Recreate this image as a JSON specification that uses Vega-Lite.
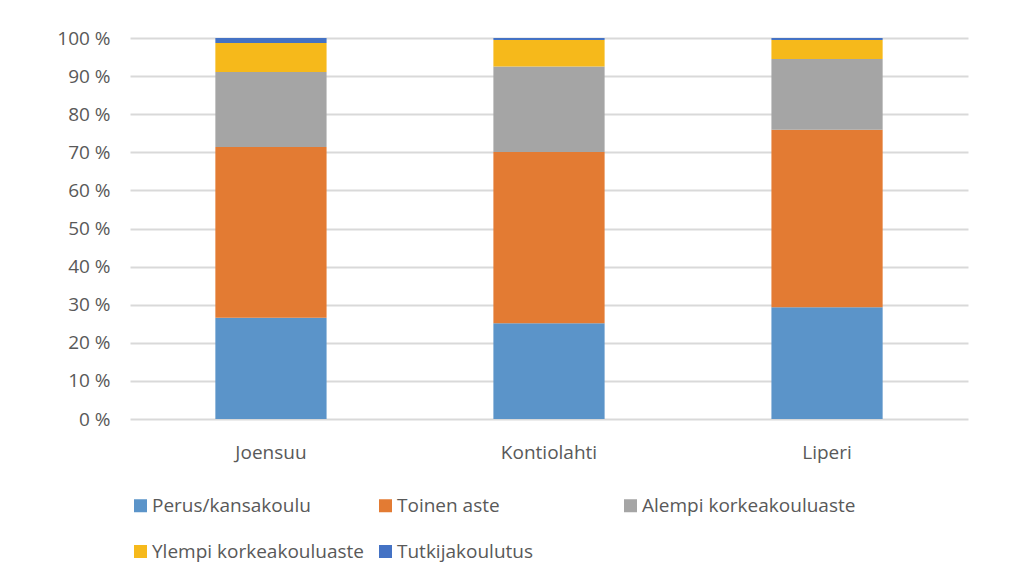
{
  "$schema": "https://vega.github.io/schema/vega-lite/v6.json",
  "width": 838,
  "height": 381,
  "autosize": "none",
  "padding": {"left": 130, "top": 38, "right": 49, "bottom": 157},
  "background": "#ffffff",
  "data": {
    "values": [
      {"kunta": "Joensuu", "koulutus": "Perus/kansakoulu", "jarjestys": 1, "osuus": 26.6},
      {"kunta": "Joensuu", "koulutus": "Toinen aste", "jarjestys": 2, "osuus": 44.8},
      {"kunta": "Joensuu", "koulutus": "Alempi korkeakouluaste", "jarjestys": 3, "osuus": 19.7},
      {"kunta": "Joensuu", "koulutus": "Ylempi korkeakouluaste", "jarjestys": 4, "osuus": 7.6},
      {"kunta": "Joensuu", "koulutus": "Tutkijakoulutus", "jarjestys": 5, "osuus": 1.3},
      {"kunta": "Kontiolahti", "koulutus": "Perus/kansakoulu", "jarjestys": 1, "osuus": 25.1},
      {"kunta": "Kontiolahti", "koulutus": "Toinen aste", "jarjestys": 2, "osuus": 45.0},
      {"kunta": "Kontiolahti", "koulutus": "Alempi korkeakouluaste", "jarjestys": 3, "osuus": 22.4},
      {"kunta": "Kontiolahti", "koulutus": "Ylempi korkeakouluaste", "jarjestys": 4, "osuus": 7.0},
      {"kunta": "Kontiolahti", "koulutus": "Tutkijakoulutus", "jarjestys": 5, "osuus": 0.5},
      {"kunta": "Liperi", "koulutus": "Perus/kansakoulu", "jarjestys": 1, "osuus": 29.3},
      {"kunta": "Liperi", "koulutus": "Toinen aste", "jarjestys": 2, "osuus": 46.6},
      {"kunta": "Liperi", "koulutus": "Alempi korkeakouluaste", "jarjestys": 3, "osuus": 18.6},
      {"kunta": "Liperi", "koulutus": "Ylempi korkeakouluaste", "jarjestys": 4, "osuus": 5.0},
      {"kunta": "Liperi", "koulutus": "Tutkijakoulutus", "jarjestys": 5, "osuus": 0.5}
    ]
  },
  "mark": {"type": "bar"},
  "encoding": {
    "x": {
      "field": "kunta",
      "type": "nominal",
      "sort": ["Joensuu", "Kontiolahti", "Liperi"],
      "scale": {"paddingInner": 0.6, "paddingOuter": 0.307},
      "axis": {
        "title": null,
        "domain": false,
        "ticks": false,
        "labelAngle": 0,
        "labelPadding": 24,
        "labelFont": "Open Sans",
        "labelFontSize": 19,
        "labelColor": "#595959"
      }
    },
    "y": {
      "field": "osuus",
      "type": "quantitative",
      "stack": "zero",
      "scale": {"domain": [0, 100], "nice": false},
      "axis": {
        "title": null,
        "values": [0, 10, 20, 30, 40, 50, 60, 70, 80, 90, 100],
        "labelExpr": "datum.value + ' %'",
        "domain": false,
        "ticks": false,
        "grid": true,
        "gridColor": "#d9d9d9",
        "gridWidth": 2,
        "labelPadding": 20,
        "labelFont": "Open Sans",
        "labelFontSize": 19,
        "labelColor": "#595959"
      }
    },
    "color": {
      "field": "koulutus",
      "type": "nominal",
      "scale": {
        "domain": ["Perus/kansakoulu", "Toinen aste", "Alempi korkeakouluaste", "Ylempi korkeakouluaste", "Tutkijakoulutus"],
        "range": ["#5b94c9", "#e37b33", "#a5a5a5", "#f6b91b", "#4472c4"]
      },
      "legend": {
        "title": null,
        "orient": "none",
        "legendX": 1,
        "legendY": 458,
        "direction": "horizontal",
        "columns": 3,
        "gridAlign": "all",
        "columnPadding": 10,
        "rowPadding": 26,
        "padding": 0,
        "symbolType": "square",
        "symbolSize": 169,
        "symbolStrokeWidth": 0,
        "labelOffset": 2,
        "labelFont": "Open Sans",
        "labelFontSize": 19,
        "labelColor": "#595959",
        "labelLimit": 400
      }
    },
    "order": {"field": "jarjestys", "type": "quantitative"}
  },
  "config": {"view": {"stroke": null}}
}
